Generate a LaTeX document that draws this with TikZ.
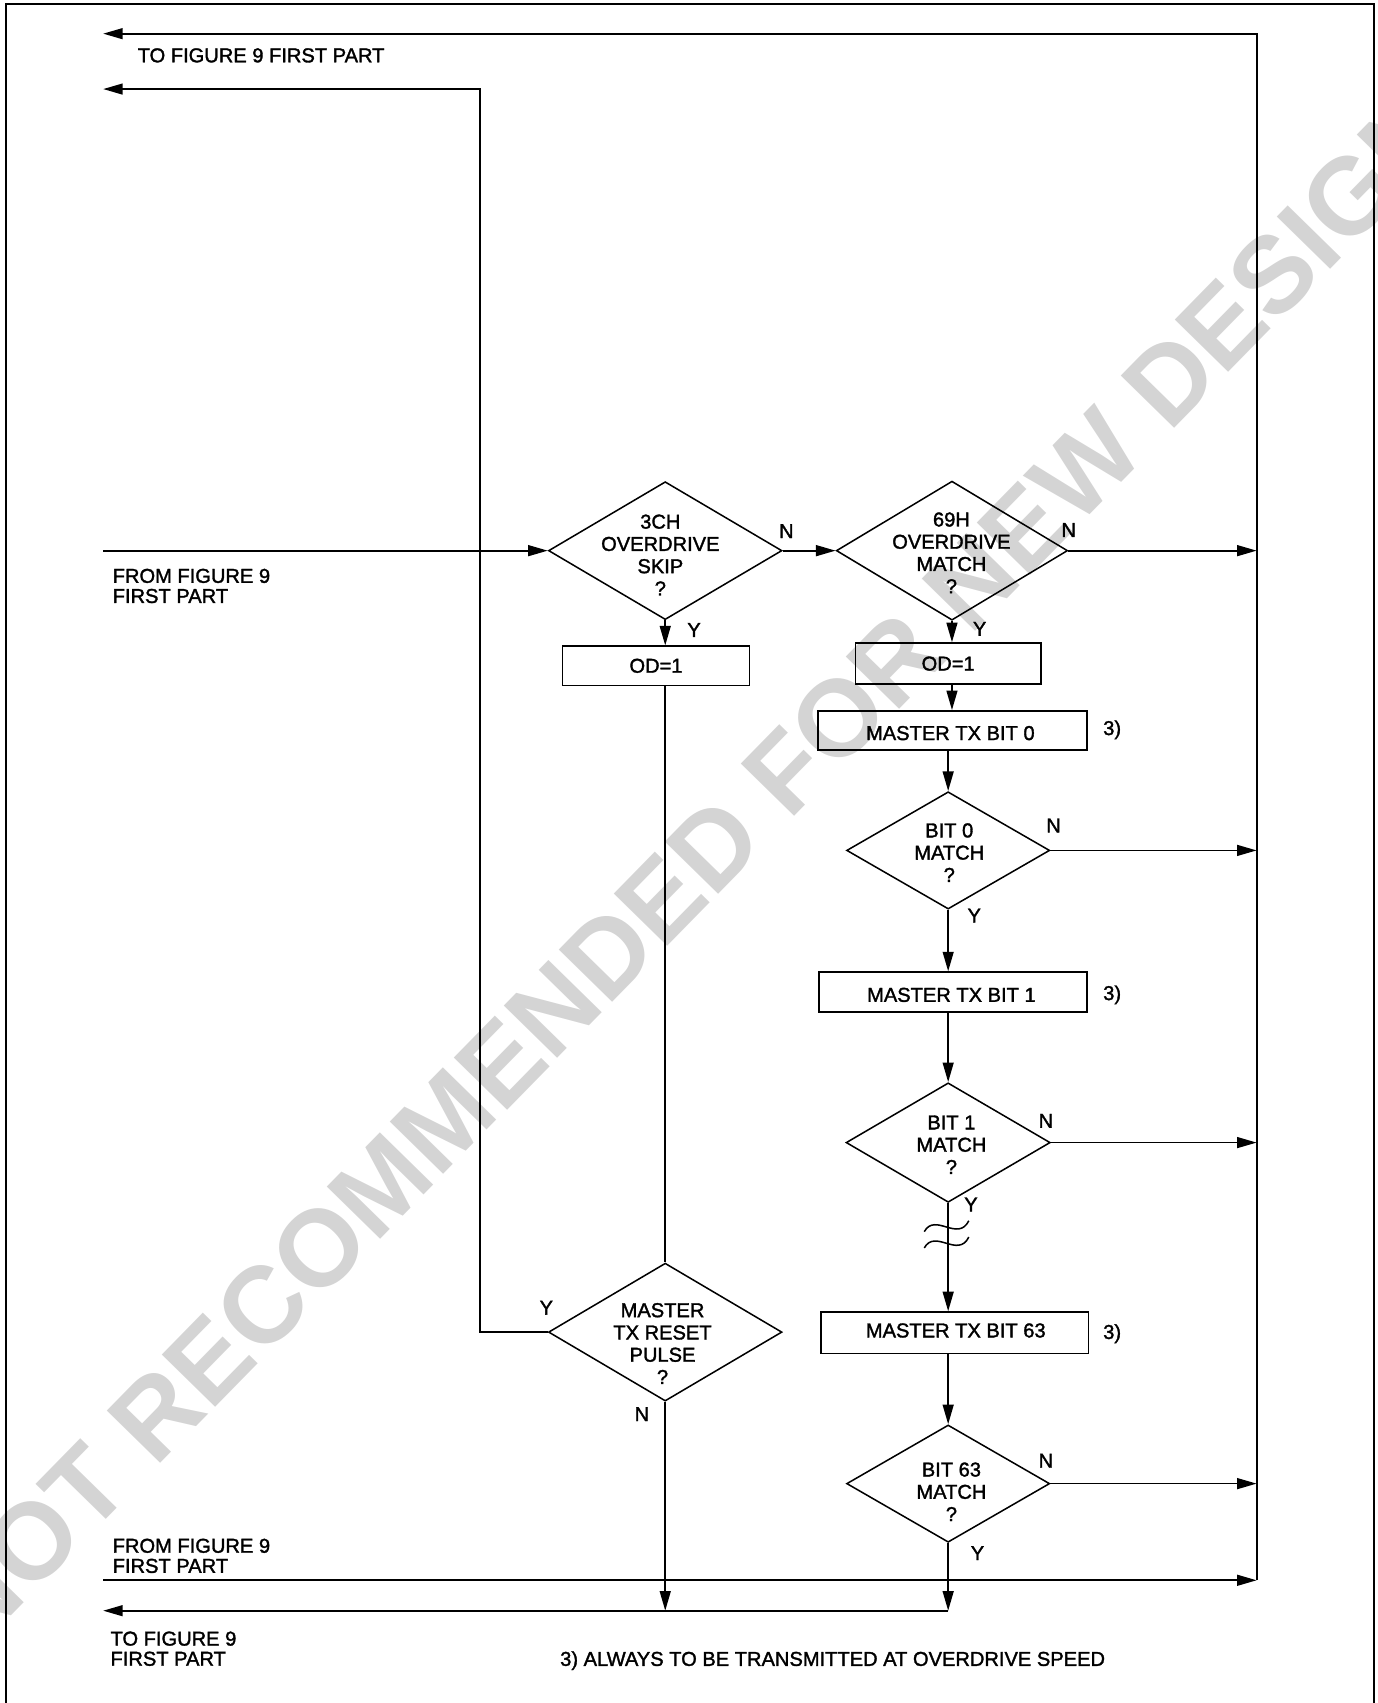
\documentclass[tikz,border=0pt]{standalone}
\usepackage{fontspec}
\setmainfont{Liberation Sans}
\newfontfamily\dfont{Liberation Sans}[FakeBold=1.6]
\usetikzlibrary{arrows.meta,shapes.geometric}
\newcommand\mytext{\dfont\fontsize{18.5}{18.5}\selectfont}
\newcommand\mydtext{\dfont\fontsize{18.5}{20.5}\selectfont}
\begin{document}
\begin{tikzpicture}[x=1pt,y=-1pt,
  line width=1.6pt,
  arr/.style={-{Triangle[length=18pt,width=10pt]}},
  dia/.style={draw, shape=diamond, inner sep=0pt, line width=1.4pt},
  box/.style={draw, rectangle, inner sep=0pt, line width=1.4pt, font=\mytext},
  lbl/.style={font=\mytext, inner sep=0pt},
  dtxt/.style={font=\mydtext, align=center, inner sep=0pt},
  tilde/.style={line width=1.4pt},
]
\useasboundingbox (0,0) rectangle (1267.85,1568);

% watermark
\begin{scope}
\clip (0,0) rectangle (1267.85,1568);
\node[font=\fontsize{100}{100}\selectfont\bfseries, text=black!17, rotate=45.6, inner sep=0pt] (wm) at (636,800) {NOT RECOMMENDED FOR NEW DESIGN};
\end{scope}

% frame
\coordinate (f1) at (5.5,1568);
\coordinate (f2) at (5.5,3.7);
\coordinate (f3) at (1265.5,3.7);
\coordinate (f4) at (1265.5,1568);
\draw[line width=1.8pt] (f1) -- (f2) -- (f3) -- (f4);

% decisions
\node[dia, minimum width=215pt, minimum height=127pt] (d1) at (612.5,507) {};
\node[dia, minimum width=213pt, minimum height=128pt] (d2) at (876.5,507) {};
\node[dia, minimum width=187pt, minimum height=108pt] (d3) at (873,783) {};
\node[dia, minimum width=188pt, minimum height=110pt] (d4) at (873,1052) {};
\node[dia, minimum width=215pt, minimum height=127pt] (d5) at (612.5,1226.5) {};
\node[dia, minimum width=187pt, minimum height=108pt] (d6) at (873,1366) {};

\node[dtxt] (t1) at (608,511) {3CH\\OVERDRIVE\\SKIP\\?};
\node[dtxt] (t2) at (876,509) {69H\\OVERDRIVE\\MATCH\\?};
\node[dtxt] (t3) at (874,785) {BIT 0\\MATCH\\?};
\node[dtxt] (t4) at (876,1054) {BIT 1\\MATCH\\?};
\node[dtxt] (t5) at (610,1237) {MASTER\\TX RESET\\PULSE\\?};
\node[dtxt] (t6) at (876,1373.5) {BIT 63\\MATCH\\?};

% boxes
\node[box, minimum width=172pt, minimum height=36pt] (b1) at (604,613) {OD=1};
\node[box, minimum width=171pt, minimum height=38pt] (b2) at (873,611) {OD=1};
\node[box, minimum width=248pt, minimum height=36pt] (b3) at (877,672.5) {};
\node[box, minimum width=247pt, minimum height=37pt] (b4) at (877.5,913.5) {};
\node[box, minimum width=246pt, minimum height=38pt] (b5) at (879,1227) {};
\node[lbl] (t7) at (875,675) {MASTER TX BIT 0};
\node[lbl] (t8) at (876,916) {MASTER TX BIT 1};
\node[lbl] (t9) at (880,1225) {MASTER TX BIT 63};

% coordinates
\coordinate (rt) at (1157,31);
\coordinate (rb) at (1157,1455);
\coordinate (o1) at (95,31);
\coordinate (o2) at (95,82);
\coordinate (k2) at (442,82);
\coordinate (i1) at (95,507);
\coordinate (i2) at (95,1455);
\coordinate (o3) at (95,1483);
\coordinate (j) at (873,1483);

% connectors
\draw[arr] (rb) -- (rt) -- (o1);
\draw[arr] (d5.west) -| (k2) -- (o2);
\draw[arr] (i1) -- (d1.west);
\draw[arr] (d1.east) -- (d2.west);
\draw[arr] (d2.east) -- (d2.east -| rt);
\draw[arr] (d1.south) -- (d1.south |- b1.north);
\draw (b1.south -| d1.south) -- (d5.north);
\draw[arr] (d2.south) -- (d2.south |- b2.north);
\draw[arr] (b2.south -| d2.south) -- (d2.south |- b3.north);
\draw[arr] (b3.south -| d3.north) -- (d3.north);
\draw[arr] (d3.east) -- (d3.east -| rt);
\draw[arr] (d3.south) -- (d3.south |- b4.north);
\draw[arr] (b4.south -| d4.north) -- (d4.north);
\draw[arr] (d4.east) -- (d4.east -| rt);
\draw[arr] (d4.south) -- (d4.south |- b5.north);
\draw[arr] (b5.south -| d6.north) -- (d6.north);
\draw[arr] (d6.east) -- (d6.east -| rt);
\draw[arr] (d6.south) -- (j);
\draw[arr] (d5.south) -- (d5.south |- j);
\draw[arr] (j) -- (o3);
\draw[arr] (i2) -- (rb);

% break marks
\draw[tilde] (851,1134) .. controls (861,1116) and (882,1144) .. (892,1124);
\draw[tilde] (851,1149) .. controls (861,1131) and (882,1159) .. (892,1139);

% branch labels
\node[lbl] (n1) at (724,489) {N};
\node[lbl] (n2) at (984,488) {N};
\node[lbl] (n3) at (970,760) {N};
\node[lbl] (n4) at (963,1032) {N};
\node[lbl] (n6) at (963,1345) {N};
\node[lbl] (n5) at (591,1302) {N};
\node[lbl] (y1) at (639,580) {Y};
\node[lbl] (y2) at (902,579) {Y};
\node[lbl] (y3) at (897,843) {Y};
\node[lbl] (y4) at (894,1109) {Y};
\node[lbl] (y6) at (900,1430) {Y};
\node[lbl] (y5) at (503,1204) {Y};
\node[lbl] (r3) at (1024,672) {3)};
\node[lbl] (r4) at (1024,916) {3)};
\node[lbl] (r5) at (1024,1228) {3)};

% side texts
\node[lbl, anchor=west] (x1) at (126,51) {TO FIGURE 9 FIRST PART};
\node[lbl, anchor=west, align=left] (x2) at (103,539.5) {FROM FIGURE 9\\FIRST PART};
\node[lbl, anchor=west, align=left] (x3) at (103,1432.5) {FROM FIGURE 9\\FIRST PART};
\node[lbl, anchor=west, align=left] (x4) at (101,1518) {TO FIGURE 9\\FIRST PART};
\node[lbl, anchor=west] (x5) at (515,1529) {3) ALWAYS TO BE TRANSMITTED AT OVERDRIVE SPEED};
\end{tikzpicture}
\end{document}
